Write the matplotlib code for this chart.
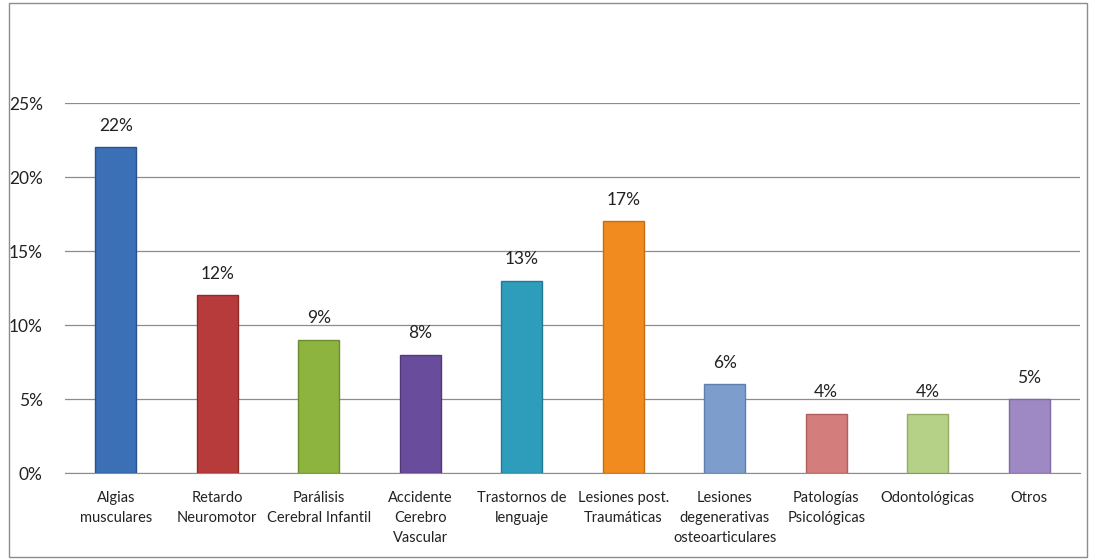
import numpy as np
import matplotlib.pyplot as plt
from matplotlib.patches import Rectangle

categorias = ["Algias\nmusculares", "Retardo\nNeuromotor", "Parálisis\nCerebral Infantil",
              "Accidente\nCerebro\nVascular", "Trastornos de\nlenguaje", "Lesiones post.\nTraumáticas",
              "Lesiones\ndegenerativas\nosteoarticulares", "Patologías\nPsicológicas",
              "Odontológicas", "Otros"]
porcentajes = [22, 12, 9, 8, 13, 17, 6, 4, 4, 5]
colores = ["#3b6fb6", "#b83b3b", "#8cb43f", "#6a4c9c", "#2e9cbb", "#f18a1f",
           "#7d9dcc", "#d37d7d", "#b5d087", "#9f89c4"]
bordes = ["#2a5290", "#8e2a2a", "#6d8c2f", "#513a78", "#227994", "#c76d12",
          "#5f7fae", "#b05f5f", "#93ad67", "#7f6ba3"]

plt.rcParams['font.family'] = ['Lato', 'DejaVu Sans']

fig = plt.figure(figsize=(10.95, 5.6), dpi=100)
fig.patches.append(Rectangle((0.008, 0.006), 0.985, 0.988, transform=fig.transFigure,
                             fill=False, edgecolor="#8c8c8c", linewidth=1))
ax = fig.add_axes([65 / 1095, 1 - 473 / 560, (1080 - 65) / 1095, (473 - 103) / 560])

x = np.arange(len(categorias))
ax.bar(x, porcentajes, width=0.4, color=colores, edgecolor=bordes, linewidth=1, zorder=3)
for xi, v in zip(x, porcentajes):
    ax.text(xi, v + 0.9, f"{v}%", ha="center", va="bottom", fontsize=12.5, color="#222222")

ax.set_xlim(-0.5, len(categorias) - 0.5)
ax.set_ylim(0, 25)
ax.set_yticks([0, 5, 10, 15, 20, 25])
ax.set_yticklabels([f"{t}%" for t in [0, 5, 10, 15, 20, 25]], fontsize=12.5, color="#222222")
ax.yaxis.grid(True, color="#8c8c8c", linewidth=0.9, zorder=0)
ax.set_xticks(x)
ax.set_xticklabels(categorias, fontsize=10.5, color="#222222", linespacing=1.55)
ax.tick_params(axis="x", length=0, pad=13)
ax.tick_params(axis="y", length=0, pad=16)
for s in ["top", "right", "left"]:
    ax.spines[s].set_visible(False)
ax.spines["bottom"].set_color("#8c8c8c")

fig.savefig("out.png", dpi=100)
